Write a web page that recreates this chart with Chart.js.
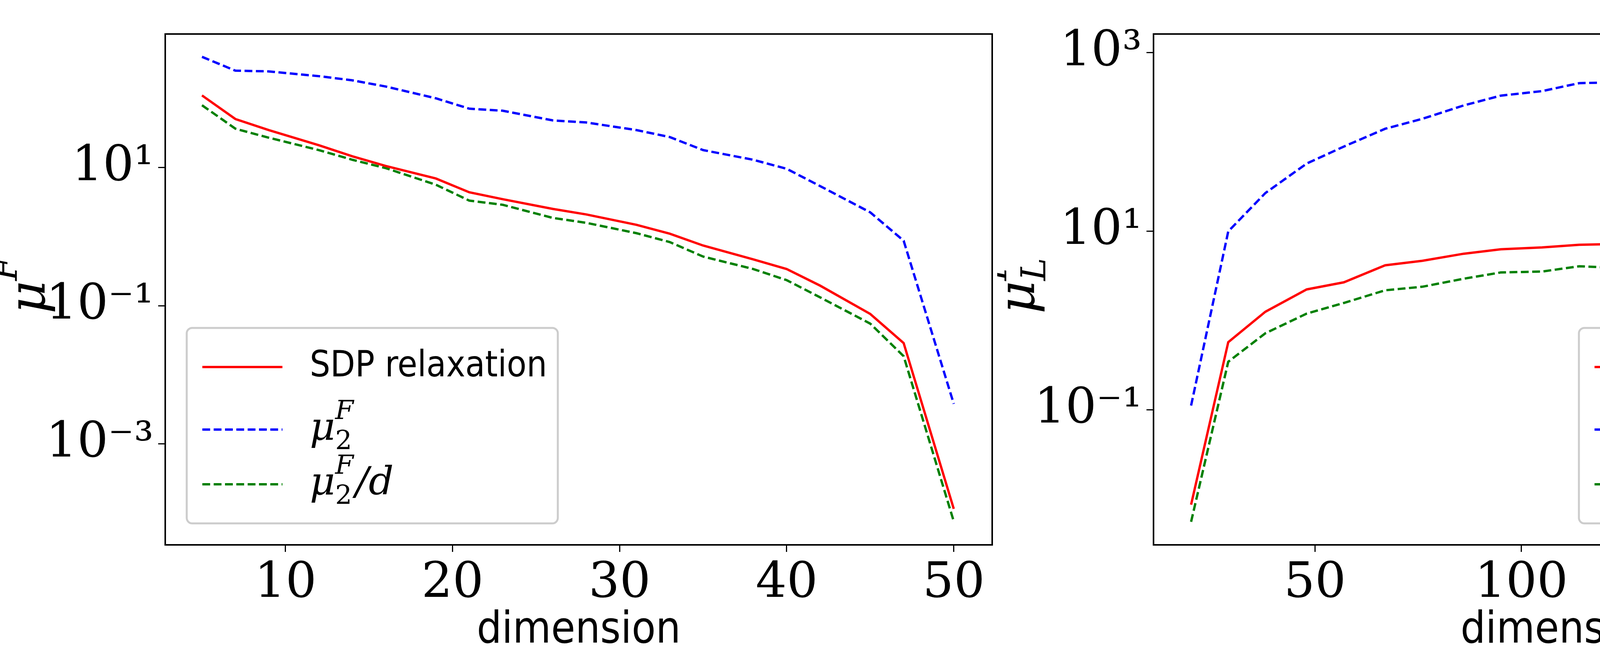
<!DOCTYPE html>
<html><head><meta charset="utf-8">
<script src="https://cdn.jsdelivr.net/npm/chart.js@4/dist/chart.umd.min.js"></script>
<style>html,body{margin:0;padding:0;background:#fff;width:5106px;height:1686px;overflow:hidden}
canvas{position:absolute;top:0;display:block}</style></head>
<body>
<canvas id="a" width="2553" height="1686" style="left:0;width:2553px;height:1686px"></canvas>
<canvas id="b" width="2553" height="1686" style="left:2553px;width:2553px;height:1686px"></canvas>
<script>
const dimsLeft=[5,7,9,12,14,16,19,21,23,26,28,31,33,35,38,40,42,45,47,50];
const sdpLeft=[110,50.1,34.7,20.9,14.5,10.5,6.92,4.37,3.47,2.51,2.09,1.48,1.10,0.741,0.468,0.339,0.195,0.0759,0.0288,0.000115];
const mu2Left=[398,251,245,209,182,148,100,70.8,66.1,47.9,44.7,34.7,27.5,17.8,12.9,9.55,5.37,2.24,0.871,0.0038];
const mu2dLeft=[79.4,36.3,26.9,17.8,12.9,9.77,5.62,3.31,2.88,1.86,1.58,1.12,0.832,0.513,0.339,0.234,0.132,0.055,0.0186,0.0000759];
const dimsRight=[20,29,38,48,57,67,76,86,95,105,114,124,133,143,152,162,171,181,190,200];
const sdpRight=[0.0087,0.575,1.26,2.24,2.69,4.17,4.68,5.62,6.31,6.61,7.08,7.24,7.59,8.13,8.13,8.32,8.51,8.71,8.91,8.91];
const mu2Right=[0.112,10.0,26.9,57.5,89.1,141,182,257,331,372,457,468,513,617,646,692,708,776,851,891];
const mu2dRight=[0.0056,0.347,0.724,1.20,1.58,2.19,2.40,2.95,3.47,3.55,4.07,3.89,3.89,4.37,4.37,4.27,4.27,4.37,4.47,4.47];
const xTicksLeft=[10,20,30,40,50];
const xTicksRight=[50,100,150,200];
const yTicksLeft=[10,0.1,0.001];
const yTicksRight=[1000,10,0.1];
const supMap={'-':'⁻','0':'⁰','1':'¹','2':'²','3':'³'};
function fmt(v){const e=Math.round(Math.log10(v));return '10'+String(e).split('').map(c=>supMap[c]).join('');}
function pts(x,y){return x.map((v,i)=>({x:v,y:y[i]}));}

const legendPlugin={id:'mathLegend',afterDraw(chart,args,o){
  const ctx=chart.ctx,a=chart.chartArea;
  const w=o.w,h=o.h;
  const x=o.right? a.right-o.pad-w : a.left+o.pad;
  const y=a.bottom-o.pad-h;
  ctx.save();
  ctx.fillStyle='rgba(255,255,255,0.85)';ctx.strokeStyle='#cccccc';ctx.lineWidth=5;
  ctx.beginPath();ctx.roundRect(x,y,w,h,14);ctx.fill();ctx.stroke();
  const rows=[0.2,0.52,0.8];
  chart.data.datasets.forEach((ds,i)=>{
    const ry=y+h*rows[i];
    ctx.strokeStyle=ds.borderColor;ctx.lineWidth=6;ctx.setLineDash(ds.borderDash||[]);
    ctx.beginPath();ctx.moveTo(x+40,ry);ctx.lineTo(x+245,ry);ctx.stroke();
    ctx.setLineDash([]);
    ctx.fillStyle='#000';ctx.textBaseline='middle';ctx.textAlign='left';
    const tx=x+315;
    if(i===0){ctx.font='92px "DejaVu Sans Condensed", "DejaVu Sans", sans-serif';ctx.fillText('SDP relaxation',tx,ry);}
    else{
      ctx.font='italic 100px "DejaVu Serif", serif';ctx.fillText('μ',tx,ry);
      const end=tx+ctx.measureText('μ').width;
      ctx.font='italic 68px "DejaVu Serif", serif';ctx.fillText('F',end,ry-45);
      const sub=o.sub;
      ctx.font='68px "DejaVu Serif", serif';ctx.fillText(sub[0],end,ry+32);
      let ex=end+ctx.measureText(sub[0]).width;
      if(sub[1]){ctx.font='italic 68px "DejaVu Serif", serif';ctx.fillText(sub[1],ex,ry+32);ex+=ctx.measureText(sub[1]).width;}
      ex=Math.max(ex,end+48);
      if(i===2){ctx.font='italic 100px "DejaVu Serif", serif';ctx.fillText('/d',ex+4,ry);}
    }
  });
  ctx.restore();
}};

const yTitlePlugin={id:'yTitle',afterDraw(chart,args,o){
  const ctx=chart.ctx,a=chart.chartArea;
  ctx.save();ctx.translate(o.x,(a.top+a.bottom)/2);ctx.rotate(-Math.PI/2);
  ctx.fillStyle='#000';ctx.textBaseline='middle';ctx.textAlign='left';
  ctx.font='italic 130px "DejaVu Serif", serif';
  const w=ctx.measureText('μ').width;
  const x0=-w/2-20;
  ctx.fillText('μ',x0,0);
  ctx.font='italic 88px "DejaVu Serif", serif';
  ctx.fillText('F',x0+w,-60);
  if(o.sub) ctx.fillText(o.sub,x0+w,40);
  ctx.restore();
}};

const boxPlugin={id:'box',afterDraw(c){const a=c.chartArea,ctx=c.ctx;ctx.save();ctx.strokeStyle='#000';ctx.lineWidth=4;ctx.strokeRect(a.left,a.top,a.right-a.left,a.bottom-a.top);ctx.restore();}};

function make(id,xs,s1,s2,s3,xmin,xmax,ymin,ymax,xt,yt,leftW,rightPad,legendRight,legSub,ySub,yTitleX,legW){
  return new Chart(document.getElementById(id),{
    type:'line',
    data:{datasets:[
      {data:pts(xs,s1),borderColor:'#ff0000',borderWidth:6,pointRadius:0,fill:false},
      {data:pts(xs,s2),borderColor:'#0000ff',borderWidth:6,borderDash:[20,9],pointRadius:0,fill:false},
      {data:pts(xs,s3),borderColor:'#008000',borderWidth:6,borderDash:[20,9],pointRadius:0,fill:false}
    ]},
    options:{responsive:false,devicePixelRatio:1,animation:false,
      layout:{padding:{top:26,right:rightPad,left:0,bottom:0}},
      plugins:{legend:{display:false},tooltip:{enabled:false},
        mathLegend:{w:legW,h:500,pad:55,right:legendRight,sub:legSub},
        yTitle:{x:yTitleX,sub:ySub}},
      scales:{
        x:{type:'linear',min:xmin,max:xmax,
          afterBuildTicks:s=>{s.ticks=xt.map(v=>({value:v}));},
          afterFit:s=>{s.height=292;},
          ticks:{color:'#000',font:{family:'"DejaVu Serif", serif',size:125},padding:8,maxRotation:0},
          grid:{drawOnChartArea:false,tickLength:18,color:'#000',lineWidth:3},
          border:{color:'#000',width:4},
          title:{display:true,text:'dimension',color:'#000',font:{family:'"DejaVu Sans Condensed", "DejaVu Sans", sans-serif',size:112},padding:{top:0}}},
        y:{type:'logarithmic',min:ymin,max:ymax,
          afterBuildTicks:s=>{s.ticks=yt.map(v=>({value:v}));},
          afterFit:s=>{s.width=leftW;},
          ticks:{color:'#000',font:{family:'"DejaVu Serif", serif',size:125},padding:12,callback:v=>fmt(v)},
          grid:{drawOnChartArea:false,tickLength:18,color:'#000',lineWidth:3},
          border:{color:'#000',width:4}}
      }},
    plugins:[legendPlugin,yTitlePlugin,boxPlugin]
  });
}
make('a',dimsLeft,sdpLeft,mu2Left,mu2dLeft,2.8,52.3,Math.pow(10,-4.46),Math.pow(10,2.93),xTicksLeft,yTicksLeft,423,13,false,['2',''],'',80,950);
make('b',dimsRight,sdpRight,mu2Right,mu2dRight,10.9,209,Math.pow(10,-2.51),Math.pow(10,3.21),xTicksRight,yTicksRight,400,59,true,['2,','L'],'L',60,950);
</script></body></html>
